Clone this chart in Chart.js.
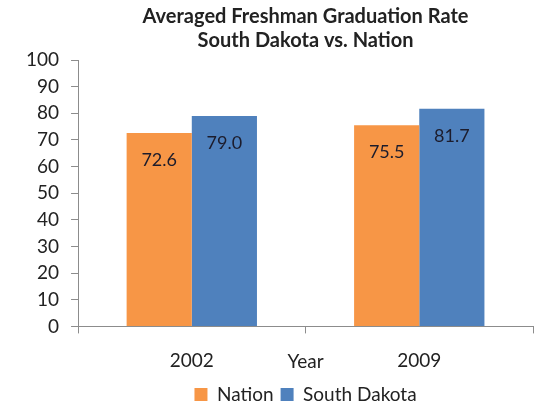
<!DOCTYPE html>
<html>
<head>
<meta charset="utf-8">
<script src="https://cdn.jsdelivr.net/npm/chart.js@4"></script>
<style>
  html, body { margin: 0; padding: 0; background: #fff; }
  #wrap { width: 543px; height: 402px; }
</style>
</head>
<body>
<div id="wrap"><canvas id="chart" width="543" height="402"></canvas></div>
<script>
const years = ["2002", "2009"];
const nation = [72.6, 75.5];
const southDakota = [79.0, 81.7];
const yTicks = [0, 10, 20, 30, 40, 50, 60, 70, 80, 90, 100];

const FONT = "Lato, 'Open Sans', sans-serif";

// value labels, drawn inside each bar just under its top
const barLabels = {
  id: "barLabels",
  afterDatasetsDraw(chart) {
    const ctx = chart.ctx;
    ctx.save();
    ctx.font = "18px " + FONT;
    ctx.fillStyle = "#1c1c2c";
    ctx.textAlign = "center";
    ctx.textBaseline = "middle";
    chart.data.datasets.forEach((ds, i) => {
      chart.getDatasetMeta(i).data.forEach((bar, j) => {
        ctx.fillText(ds.data[j].toFixed(1), bar.x, bar.y + 27);
      });
    });
    ctx.restore();
  }
};

new Chart(document.getElementById("chart"), {
  type: "bar",
  data: {
    labels: years,
    datasets: [
      { label: "Nation", data: nation, backgroundColor: "#f79646" },
      { label: "South Dakota", data: southDakota, backgroundColor: "#4f81bd" }
    ]
  },
  options: {
    responsive: false,
    animation: false,
    layout: { padding: { left: 14, right: 10, top: 0, bottom: -12 } },
    datasets: { bar: { categoryPercentage: 0.573, barPercentage: 1.0 } },
    plugins: {
      title: {
        display: true,
        fullSize: false,
        text: ["Averaged Freshman Graduation Rate", "South Dakota vs. Nation"],
        font: { family: FONT, size: 20, weight: "bold" },
        color: "#222",
        lineHeight: 1.25,
        padding: { top: 5, bottom: 7 }
      },
      legend: {
        position: "bottom",
        fullSize: false,
        labels: {
          font: { family: FONT, size: 19 },
          color: "#222",
          boxWidth: 13,
          boxHeight: 13,
          padding: 7
        }
      },
      tooltip: { enabled: false }
    },
    scales: {
      x: {
        border: { color: "#8c8c8c" },
        grid: { drawOnChartArea: false, drawTicks: true, tickLength: 7, color: "#8c8c8c" },
        ticks: { font: { family: FONT, size: 19 }, color: "#222", padding: 16 },
        title: {
          display: true,
          text: "Year",
          font: { family: FONT, size: 19 },
          color: "#222",
          padding: { top: -38, bottom: 5 }
        }
      },
      y: {
        min: 0,
        max: 100,
        afterBuildTicks: axis => { axis.ticks = yTicks.map(v => ({ value: v })); },
        border: { color: "#8c8c8c" },
        grid: { drawOnChartArea: false, drawTicks: true, tickLength: 7, color: "#8c8c8c" },
        ticks: { font: { family: FONT, size: 19 }, color: "#222", padding: 12, autoSkip: false }
      }
    }
  },
  plugins: [barLabels]
});
</script>
</body>
</html>
